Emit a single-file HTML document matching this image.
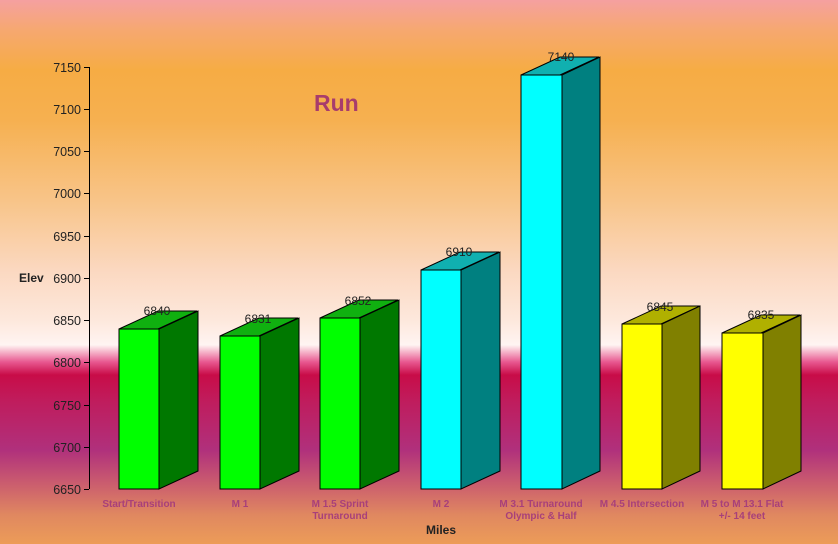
<!DOCTYPE html>
<html><head><meta charset="utf-8"><style>
html,body{margin:0;padding:0;width:838px;height:544px;overflow:hidden}
body{background:linear-gradient(to bottom,#f5a0a0 0px,#f6a870 30px,#f6ac44 70px,#f6b050 120px,#f8c488 200px,#fbd8c0 270px,#fde8dc 320px,#fff4f2 345px,#e85890 362px,#c80c48 375px,#c01c5c 400px,#b0307c 450px,#c85870 480px,#e08860 515px,#ec9c58 544px)}
svg{position:absolute;left:0;top:0}
text{font-family:"Liberation Sans",Arial,sans-serif}
</style></head><body>
<svg width="838" height="544" xmlns="http://www.w3.org/2000/svg">
<g stroke="#000" stroke-width="1">
<line x1="89.5" y1="67" x2="89.5" y2="489"/>
<line x1="84" y1="67.5" x2="89" y2="67.5"/><line x1="84" y1="109.5" x2="89" y2="109.5"/><line x1="84" y1="151.5" x2="89" y2="151.5"/><line x1="84" y1="193.5" x2="89" y2="193.5"/><line x1="84" y1="236.5" x2="89" y2="236.5"/><line x1="84" y1="278.5" x2="89" y2="278.5"/><line x1="84" y1="320.5" x2="89" y2="320.5"/><line x1="84" y1="362.5" x2="89" y2="362.5"/><line x1="84" y1="405.5" x2="89" y2="405.5"/><line x1="84" y1="447.5" x2="89" y2="447.5"/><line x1="84" y1="489.5" x2="89" y2="489.5"/>
</g>
<g font-size="12.5" fill="#222" text-anchor="end">
<text x="81" y="72">7150</text><text x="81" y="114">7100</text><text x="81" y="156">7050</text><text x="81" y="198">7000</text><text x="81" y="241">6950</text><text x="81" y="283">6900</text><text x="81" y="325">6850</text><text x="81" y="367">6800</text><text x="81" y="410">6750</text><text x="81" y="452">6700</text><text x="81" y="494">6650</text>
</g>
<text x="19" y="282" font-size="12" font-weight="bold" fill="#222">Elev</text>
<text x="314" y="111" font-size="23" font-weight="bold" fill="#a83c6c">Run</text>
<g stroke="#000" stroke-width="1">
<polygon points="119,329 158,311 197,311 158,329" fill="#10b010"/><polygon points="159,329 198,311 198,471 159,489" fill="#007800"/><rect x="119" y="329" width="40" height="160" fill="#00ff00"/>
<polygon points="220,336 259,318 298,318 259,336" fill="#10b010"/><polygon points="260,336 299,318 299,471 260,489" fill="#007800"/><rect x="220" y="336" width="40" height="153" fill="#00ff00"/>
<polygon points="320,318 359,300 398,300 359,318" fill="#10b010"/><polygon points="360,318 399,300 399,471 360,489" fill="#007800"/><rect x="320" y="318" width="40" height="171" fill="#00ff00"/>
<polygon points="421,270 460,252 499,252 460,270" fill="#10b0b0"/><polygon points="461,270 500,252 500,471 461,489" fill="#008080"/><rect x="421" y="270" width="40" height="219" fill="#00ffff"/>
<polygon points="521,75 560,57 599,57 560,75" fill="#10b0b0"/><polygon points="562,75 600,57 600,471 562,489" fill="#008080"/><rect x="521" y="75" width="41" height="414" fill="#00ffff"/>
<polygon points="622,324 661,306 700,306 661,324" fill="#b0b000"/><polygon points="662,324 700,306 700,471 662,489" fill="#808000"/><rect x="622" y="324" width="40" height="165" fill="#ffff00"/>
<polygon points="722,333 761,315 800,315 761,333" fill="#b0b000"/><polygon points="763,333 801,315 801,471 763,489" fill="#808000"/><rect x="722" y="333" width="41" height="156" fill="#ffff00"/>
</g>
<g font-size="12" fill="#222" text-anchor="middle">
<text x="157" y="315">6840</text><text x="258" y="323">6831</text><text x="358" y="305">6852</text><text x="459" y="256">6910</text><text x="561" y="61">7140</text><text x="660" y="311">6845</text><text x="761" y="319">6835</text>
</g>
<g font-size="10" font-weight="bold" fill="#a8407a" text-anchor="middle">
<text x="139" y="507">Start/Transition</text>
<text x="240" y="507">M 1</text>
<text x="340" y="507">M 1.5 Sprint</text><text x="340" y="519">Turnaround</text>
<text x="441" y="507">M 2</text>
<text x="541" y="507">M 3.1 Turnaround</text><text x="541" y="519">Olympic &amp; Half</text>
<text x="642" y="507">M 4.5 Intersection</text>
<text x="742" y="507">M 5 to M 13.1  Flat</text><text x="742" y="519">+/- 14 feet</text>
</g>
<text x="441" y="534" font-size="12" font-weight="bold" fill="#222" text-anchor="middle">Miles</text>
</svg>
</body></html>
